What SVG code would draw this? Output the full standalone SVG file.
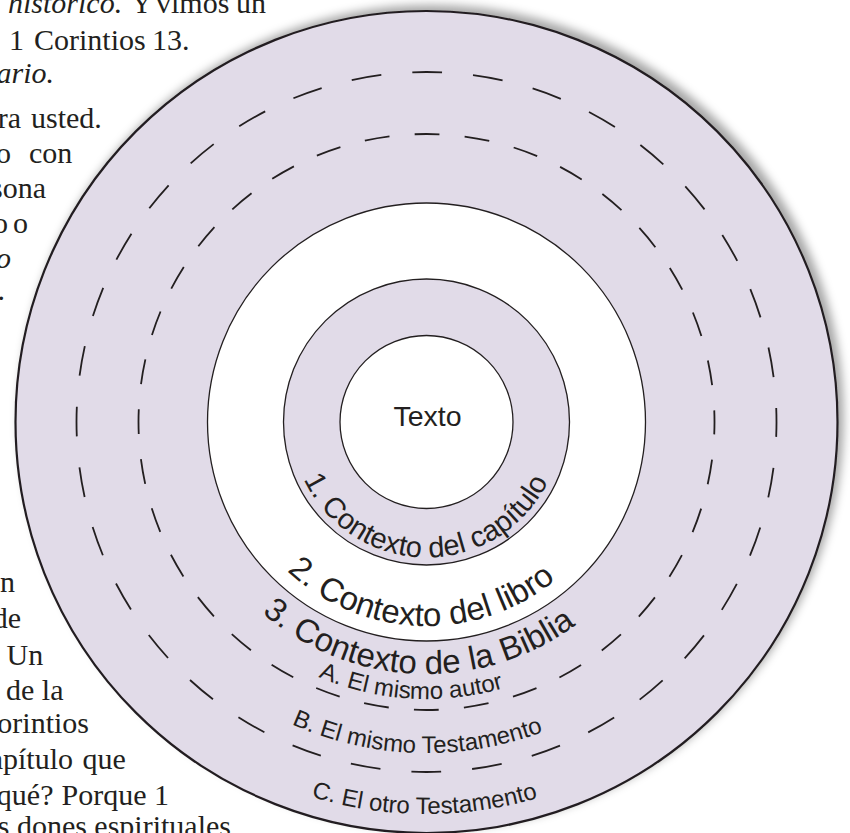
<svg xmlns="http://www.w3.org/2000/svg" width="850" height="833" viewBox="0 0 850 833">
<defs>
<style>
.body{font-family:"Liberation Serif","Times New Roman",serif;font-size:30px;fill:#231f20}
.it{font-style:italic}
.lbl{font-family:"Liberation Sans",Arial,sans-serif;fill:#231f20}
.ring{stroke:#231f20;stroke-width:1.3}
.dash{fill:none;stroke:#231f20;stroke-width:1.8}
</style>
<filter id="shadow" x="-10%" y="-10%" width="120%" height="120%">
<feDropShadow dx="5" dy="-5" stdDeviation="5" flood-color="#000" flood-opacity="0.35"/>
</filter>
<path id="p1" d="M303.70,364.74 A135.5,135.5 0 1 0 549.31,364.74"/>
<path id="p2" d="M241.61,335.79 A204,204 0 1 0 611.39,335.79"/>
<path id="p3" d="M198.11,315.51 A252,252 0 1 0 654.89,315.51"/>
<path id="pA" d="M175.45,304.94 A277,277 0 1 0 677.55,304.94"/>
<path id="pB" d="M126.51,282.11 A331,331 0 1 0 726.49,282.11"/>
<path id="pC" d="M71.23,256.33 A392,392 0 1 0 781.77,256.33"/>
</defs>
<rect width="850" height="833" fill="#fff"/>
<g id="body-text" class="body">
<text y="13"><tspan x="8" class="it">histórico.</tspan><tspan x="131">Y</tspan><tspan x="156">vimos</tspan><tspan x="236">un</tspan></text>
<text y="50"><tspan x="9">1</tspan><tspan x="34">Corintios</tspan><tspan x="152">13.</tspan></text>
<text y="83" x="54" text-anchor="end" class="it">ario.</text>
<text y="128"><tspan x="21" text-anchor="end">ra</tspan><tspan x="31">usted.</tspan></text>
<text y="163"><tspan x="11" text-anchor="end">o</tspan><tspan x="29">con</tspan></text>
<text y="198" x="46" text-anchor="end">sona</text>
<text y="233"><tspan x="8" text-anchor="end">o</tspan><tspan x="13">o</tspan></text>
<text y="268" x="11" text-anchor="end" class="it">o</text>
<text y="300" x="-2.5">.</text>
<text y="592" x="15" text-anchor="end">n</text>
<text y="628" x="21" text-anchor="end">de</text>
<text y="665" x="6.5">Un</text>
<text y="700" x="6">de la</text>
<text y="733" x="89" text-anchor="end">orintios</text>
<text y="769"><tspan x="73" text-anchor="end">apítulo</tspan><tspan x="82.5">que</tspan></text>
<text y="805"><tspan x="53.5" text-anchor="end">qué?</tspan><tspan x="61.5">Porque</tspan><tspan x="154">1</tspan></text>
<text y="836" x="231" text-anchor="end">os dones espirituales</text>
</g>
<g id="ring-biblia">
<circle cx="426.5" cy="422" r="411" fill="#e1dbe8" stroke="#231f20" stroke-width="2.2" filter="url(#shadow)"/>
<circle cx="426.5" cy="422" r="350" class="dash" stroke-dasharray="30 31.087" stroke-dashoffset="15"/>
<circle cx="426.5" cy="422" r="288" class="dash" stroke-dasharray="25 25.266" stroke-dashoffset="12.5"/>
</g>
<g id="ring-libro">
<circle cx="426.5" cy="422" r="219" fill="#fff" class="ring"/>
</g>
<g id="ring-capitulo">
<circle cx="426.5" cy="422" r="143" fill="#e1dbe8" class="ring"/>
</g>
<g id="texto">
<circle cx="426.5" cy="422" r="86.5" fill="#fff" class="ring"/>
<text x="427.5" y="426" text-anchor="middle" class="lbl" font-size="28.5">Texto</text>
</g>
<g id="labels" class="lbl">
<text font-size="29" transform="rotate(0.6 426.5 422)"><textPath href="#p1" startOffset="50%" text-anchor="middle">1. Contexto del capítulo</textPath></text>
<text font-size="33" transform="rotate(1.9 426.5 422)"><textPath href="#p2" startOffset="50%" text-anchor="middle">2. Contexto del libro</textPath></text>
<text font-size="33" transform="rotate(2.2 426.5 422)"><textPath href="#p3" startOffset="50%" text-anchor="middle">3. Contexto de la Biblia</textPath></text>
<text font-size="24" transform="rotate(3.4 426.5 422)"><textPath href="#pA" startOffset="50%" text-anchor="middle">A. El mismo autor</textPath></text>
<text font-size="24" transform="rotate(1.7 426.5 422)"><textPath href="#pB" startOffset="50%" text-anchor="middle">B. El mismo Testamento</textPath></text>
<text font-size="24" transform="rotate(0.3 426.5 422)"><textPath href="#pC" startOffset="50%" text-anchor="middle">C. El otro Testamento</textPath></text>
</g>
</svg>
